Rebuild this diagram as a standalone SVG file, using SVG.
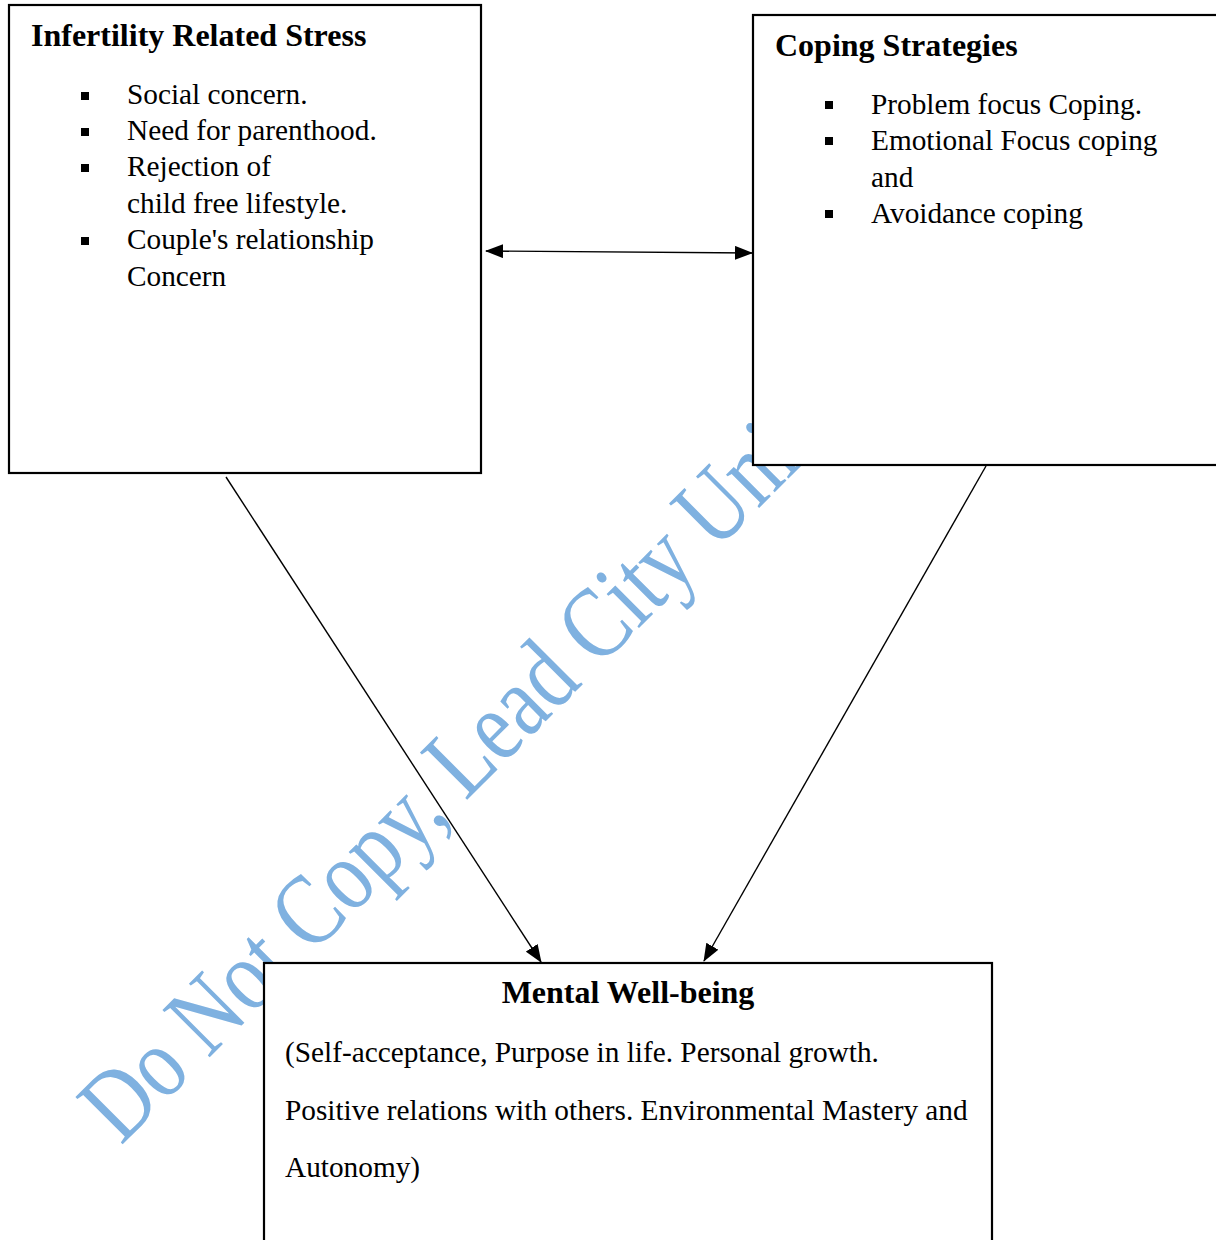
<svg xmlns="http://www.w3.org/2000/svg" width="1216" height="1240" viewBox="0 0 1216 1240">
<style>
.box{fill:#fff;stroke:#000;stroke-width:2.2}
.t{font-family:"Liberation Serif","Times New Roman",serif;font-size:29.3px;fill:#000}
.h{font-family:"Liberation Serif","Times New Roman",serif;font-size:32px;font-weight:bold;fill:#000}
.b{fill:#000}
.ln{stroke:#000;stroke-width:1.4;fill:none}
.wm{font-family:"Liberation Serif","Times New Roman",serif;font-size:102px;fill:#7FB1E0}
</style>
<defs>
<marker id="ah" markerUnits="userSpaceOnUse" markerWidth="18" markerHeight="14" viewBox="0 0 18 14" refX="17" refY="7" orient="auto-start-reverse">
<path d="M0,0 L18,7 L0,14 Z" fill="#000"/>
</marker>
</defs>
<rect width="1216" height="1240" fill="#fff"/>
<g id="connectors">
<line class="ln" x1="486" y1="251" x2="752" y2="253" marker-start="url(#ah)" marker-end="url(#ah)"/>
<line class="ln" x1="226" y1="477" x2="541" y2="962" marker-end="url(#ah)"/>
<line class="ln" x1="986" y1="466" x2="704" y2="961" marker-end="url(#ah)"/>
</g>
<text class="wm" transform="translate(121,1146) rotate(-45) scale(0.82,1)">Do Not Copy, Lead City Uni</text>
<g id="stress">
<rect class="box" x="9" y="5" width="472" height="468"/>
<text class="h" x="31" y="46">Infertility Related Stress</text>
<rect class="b" x="81" y="92" width="8" height="8"/>
<text class="t" x="127" y="104">Social concern.</text>
<rect class="b" x="81" y="128" width="8" height="8"/>
<text class="t" x="127" y="140">Need for parenthood.</text>
<rect class="b" x="81" y="164" width="8" height="8"/>
<text class="t" x="127" y="176">Rejection of</text>
<text class="t" x="127" y="213">child free lifestyle.</text>
<rect class="b" x="81" y="237" width="8" height="8"/>
<text class="t" x="127" y="249">Couple's relationship</text>
<text class="t" x="127" y="286">Concern</text>
</g>
<g id="coping">
<rect class="box" x="753" y="15" width="480" height="450"/>
<text class="h" x="775" y="56">Coping Strategies</text>
<rect class="b" x="825" y="101" width="8" height="8"/>
<text class="t" x="871" y="114">Problem focus Coping.</text>
<rect class="b" x="825" y="137" width="8" height="8"/>
<text class="t" x="871" y="150">Emotional Focus coping</text>
<text class="t" x="871" y="187">and</text>
<rect class="b" x="825" y="210" width="8" height="8"/>
<text class="t" x="871" y="223">Avoidance coping</text>
</g>
<g id="wellbeing">
<rect class="box" x="264" y="963" width="728" height="300"/>
<text class="h" x="628" y="1003" text-anchor="middle">Mental Well-being</text>
<text class="t" x="285" y="1062">(Self-acceptance, Purpose in life. Personal growth.</text>
<text class="t" x="285" y="1120">Positive relations with others. Environmental Mastery and</text>
<text class="t" x="285" y="1177">Autonomy)</text>
</g>
</svg>
